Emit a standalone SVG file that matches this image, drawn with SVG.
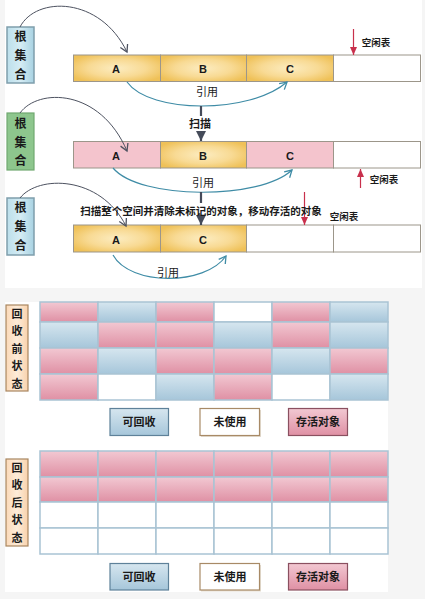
<svg xmlns="http://www.w3.org/2000/svg" width="425" height="599" viewBox="0 0 425 599">
<defs>
<radialGradient id="gY" cx="0.5" cy="0.5" r="0.6">
<stop offset="0" stop-color="#fcecc0"/>
<stop offset="0.55" stop-color="#f8da94"/>
<stop offset="1" stop-color="#efc158"/>
</radialGradient>
<linearGradient id="gP" x1="0" y1="0" x2="0" y2="1">
<stop offset="0" stop-color="#f2c8d2"/>
<stop offset="1" stop-color="#df90a4"/>
</linearGradient>
<linearGradient id="gB" x1="0" y1="0" x2="0" y2="1">
<stop offset="0" stop-color="#d6e6ef"/>
<stop offset="1" stop-color="#a6c6da"/>
</linearGradient>
<linearGradient id="gRoot" x1="0" y1="0" x2="1" y2="0">
<stop offset="0" stop-color="#bcdfeb"/>
<stop offset="0.5" stop-color="#d5ecf4"/>
<stop offset="1" stop-color="#a8d2e2"/>
</linearGradient>
<linearGradient id="gPeach" x1="0" y1="0" x2="1" y2="0">
<stop offset="0" stop-color="#fbd9b8"/>
<stop offset="0.5" stop-color="#fdecd9"/>
<stop offset="1" stop-color="#f9d2ac"/>
</linearGradient>
<marker id="mG" markerWidth="10" markerHeight="10" refX="8" refY="5" orient="auto" markerUnits="userSpaceOnUse">
<path d="M1,1 L8,5 L1,9" fill="none" stroke="#4d5260" stroke-width="1.3"/>
</marker>
<marker id="mT" markerWidth="10" markerHeight="10" refX="8" refY="5" orient="auto" markerUnits="userSpaceOnUse">
<path d="M1,1 L8,5 L1,9" fill="none" stroke="#3f8ca6" stroke-width="1.3"/>
</marker>
<marker id="mR" markerWidth="10" markerHeight="10" refX="8" refY="5" orient="auto" markerUnits="userSpaceOnUse">
<path d="M0,1.5 L8,5 L0,8.5 Z" fill="#c8304c"/>
</marker>
<marker id="mK" markerWidth="12" markerHeight="12" refX="10" refY="6" orient="auto" markerUnits="userSpaceOnUse">
<path d="M0,1 L10,6 L0,11 Z" fill="#454b5a"/>
</marker>
</defs>
<style>
.t{font-family:"Liberation Sans","Noto Sans CJK SC",sans-serif;fill:#1a1a1a;text-anchor:middle;dominant-baseline:central}
.b{font-weight:bold}
.cell{stroke:#9c968a;stroke-width:1}
.g{stroke:#a9c3d4;stroke-width:1.5}
.cg{fill:none;stroke:#4d5260;stroke-width:1}
.ct{fill:none;stroke:#3f8ca6;stroke-width:1.2}
.red{stroke:#c8304c;stroke-width:1.2}
</style>
<rect x="0" y="0" width="425" height="599" fill="#f5f5f5"/>
<rect x="5" y="0" width="417" height="288" fill="#ffffff"/>
<rect x="5" y="302" width="383" height="290" fill="#ffffff"/>

<!-- Section 1 -->
<g id="root1">
<rect x="7" y="27" width="27" height="56" fill="url(#gRoot)" stroke="#7f9eac" stroke-width="1.5"/>
<text class="t b" x="20.5" y="37" font-size="12">根</text>
<text class="t b" x="20.5" y="56" font-size="12">集</text>
<text class="t b" x="20.5" y="75" font-size="12">合</text>
</g>
<g id="bar1">
<rect class="cell" x="73.5" y="55" width="87" height="26.5" fill="url(#gY)"/>
<rect class="cell" x="160.5" y="55" width="86" height="26.5" fill="url(#gY)"/>
<rect class="cell" x="246.5" y="55" width="87" height="26.5" fill="url(#gY)"/>
<rect class="cell" x="333.5" y="55" width="87" height="26.5" fill="#ffffff"/>
<text class="t b" x="116" y="69" font-size="11">A</text>
<text class="t b" x="203" y="69" font-size="11">B</text>
<text class="t b" x="290" y="69" font-size="11">C</text>
</g>

<!-- Section 2 -->
<g id="root2">
<rect x="7" y="113" width="27" height="57" fill="#8dc68d" stroke="#70a870" stroke-width="1.2"/>
<text class="t b" x="20.5" y="124" font-size="12">根</text>
<text class="t b" x="20.5" y="143" font-size="12">集</text>
<text class="t b" x="20.5" y="161" font-size="12">合</text>
</g>
<g id="bar2">
<rect class="cell" x="73.5" y="141.5" width="87" height="26.5" fill="#f4c4cd"/>
<rect class="cell" x="160.5" y="141.5" width="86" height="26.5" fill="url(#gY)"/>
<rect class="cell" x="246.5" y="141.5" width="87" height="26.5" fill="#f4c4cd"/>
<rect class="cell" x="333.5" y="141.5" width="87" height="26.5" fill="#ffffff"/>
<text class="t b" x="116" y="156" font-size="11">A</text>
<text class="t b" x="203" y="156" font-size="11">B</text>
<text class="t b" x="290" y="156" font-size="11">C</text>
</g>

<!-- Section 3 -->
<g id="root3">
<rect x="7" y="198" width="27" height="57" fill="url(#gRoot)" stroke="#7f9eac" stroke-width="1.5"/>
<text class="t b" x="20.5" y="208" font-size="12">根</text>
<text class="t b" x="20.5" y="227" font-size="12">集</text>
<text class="t b" x="20.5" y="246" font-size="12">合</text>
</g>
<g id="bar3">
<rect class="cell" x="73.5" y="225" width="87" height="27" fill="url(#gY)"/>
<rect class="cell" x="160.5" y="225" width="86" height="27" fill="url(#gY)"/>
<rect class="cell" x="246.5" y="225" width="87" height="27" fill="#ffffff"/>
<rect class="cell" x="333.5" y="225" width="87" height="27" fill="#ffffff"/>
<text class="t b" x="116" y="240" font-size="11">A</text>
<text class="t b" x="203" y="240" font-size="11">C</text>
</g>

<g id="connectors">
<path class="cg" d="M20,27 C36,-4 100,-4 127,52" marker-end="url(#mG)"/>
<path class="cg" d="M20,113 C38,88 100,88 127,151" marker-end="url(#mG)"/>
<path class="cg" d="M20,198 C38,175 100,175 126,226" marker-end="url(#mG)"/>
<path class="ct" d="M127,82 C150,114 250,114 287,82" marker-end="url(#mT)"/>
<path class="ct" d="M113,168 C140,200 260,200 292,170" marker-end="url(#mT)"/>
<path class="ct" d="M113,255 C130,286 205,286 226,256" marker-end="url(#mT)"/>
<line class="red" x1="353.5" y1="29" x2="353.5" y2="55" marker-end="url(#mR)"/>
<line class="red" x1="360.5" y1="188" x2="360.5" y2="169" marker-end="url(#mR)"/>
<line class="red" x1="304.5" y1="192" x2="304.5" y2="225" marker-end="url(#mR)"/>
<line x1="201" y1="106" x2="201" y2="116" stroke="#454b5a" stroke-width="2.2"/>
<line x1="201" y1="132" x2="201" y2="141" stroke="#454b5a" stroke-width="2.2" marker-end="url(#mK)"/>
<line x1="201" y1="192" x2="201" y2="203" stroke="#454b5a" stroke-width="2.2"/>
<line x1="201" y1="217" x2="201" y2="225" stroke="#454b5a" stroke-width="2.2" marker-end="url(#mK)"/>
</g>

<g id="labels-top">
<text class="t" x="207" y="92" font-size="11">引用</text>
<text class="t b" x="376" y="42" font-size="9.5">空闲表</text>
<text class="t b" x="200" y="124" font-size="11">扫描</text>
<text class="t" x="203" y="183" font-size="11">引用</text>
<text class="t b" x="384" y="179" font-size="9.5">空闲表</text>
<text class="t b" x="201" y="210.5" font-size="10.5">扫描整个空间并清除未标记的对象，移动存活的对象</text>
<text class="t b" x="344" y="216.5" font-size="9.5">空闲表</text>
<text class="t" x="168" y="273" font-size="11">引用</text>
</g>

<!-- Before grid -->
<g id="label-before">
<rect x="6" y="305" width="22" height="86" fill="url(#gPeach)" stroke="#a88660" stroke-width="1.2"/>
<text class="t b" x="17" y="313.5" font-size="11">回</text>
<text class="t b" x="17" y="331" font-size="11">收</text>
<text class="t b" x="17" y="348.5" font-size="11">前</text>
<text class="t b" x="17" y="366" font-size="11">状</text>
<text class="t b" x="17" y="383.5" font-size="11">态</text>
</g>
<g id="grid-before">
<rect class="g" x="40" y="302" width="58" height="20" fill="url(#gP)"/>
<rect class="g" x="98" y="302" width="58" height="20" fill="url(#gB)"/>
<rect class="g" x="156" y="302" width="58" height="20" fill="url(#gP)"/>
<rect class="g" x="214" y="302" width="58" height="20" fill="#ffffff"/>
<rect class="g" x="272" y="302" width="58" height="20" fill="url(#gP)"/>
<rect class="g" x="330" y="302" width="58" height="20" fill="url(#gB)"/>
<rect class="g" x="40" y="322" width="58" height="26" fill="url(#gB)"/>
<rect class="g" x="98" y="322" width="58" height="26" fill="url(#gP)"/>
<rect class="g" x="156" y="322" width="58" height="26" fill="url(#gP)"/>
<rect class="g" x="214" y="322" width="58" height="26" fill="url(#gB)"/>
<rect class="g" x="272" y="322" width="58" height="26" fill="url(#gP)"/>
<rect class="g" x="330" y="322" width="58" height="26" fill="url(#gB)"/>
<rect class="g" x="40" y="348" width="58" height="26" fill="url(#gP)"/>
<rect class="g" x="98" y="348" width="58" height="26" fill="url(#gB)"/>
<rect class="g" x="156" y="348" width="58" height="26" fill="url(#gP)"/>
<rect class="g" x="214" y="348" width="58" height="26" fill="url(#gP)"/>
<rect class="g" x="272" y="348" width="58" height="26" fill="url(#gB)"/>
<rect class="g" x="330" y="348" width="58" height="26" fill="url(#gP)"/>
<rect class="g" x="40" y="374" width="58" height="26" fill="url(#gP)"/>
<rect class="g" x="98" y="374" width="58" height="26" fill="#ffffff"/>
<rect class="g" x="156" y="374" width="58" height="26" fill="url(#gB)"/>
<rect class="g" x="214" y="374" width="58" height="26" fill="url(#gP)"/>
<rect class="g" x="272" y="374" width="58" height="26" fill="#ffffff"/>
<rect class="g" x="330" y="374" width="58" height="26" fill="url(#gB)"/>
</g>
<g id="legend-before">
<rect x="110" y="408.5" width="58.5" height="27" fill="url(#gB)" stroke="#5e8199" stroke-width="1.2"/>
<text class="t b" x="139" y="422" font-size="11">可回收</text>
<rect x="201" y="410" width="60" height="27" fill="#c8b8a0" opacity="0.5"/>
<rect x="200" y="408.5" width="59.5" height="27" fill="#ffffff" stroke="#a88a66" stroke-width="1.2"/>
<text class="t b" x="230" y="422" font-size="11">未使用</text>
<rect x="288.5" y="408.5" width="59" height="27" fill="url(#gP)" stroke="#8a5060" stroke-width="1.2"/>
<text class="t b" x="318" y="422" font-size="11">存活对象</text>
</g>

<!-- After grid -->
<g id="label-after">
<rect x="6" y="459" width="22" height="87" fill="url(#gPeach)" stroke="#a88660" stroke-width="1.2"/>
<text class="t b" x="17" y="467.5" font-size="11">回</text>
<text class="t b" x="17" y="485" font-size="11">收</text>
<text class="t b" x="17" y="502.5" font-size="11">后</text>
<text class="t b" x="17" y="520" font-size="11">状</text>
<text class="t b" x="17" y="538" font-size="11">态</text>
</g>
<g id="grid-after">
<rect class="g" x="40" y="451" width="58" height="26" fill="url(#gP)"/>
<rect class="g" x="98" y="451" width="58" height="26" fill="url(#gP)"/>
<rect class="g" x="156" y="451" width="58" height="26" fill="url(#gP)"/>
<rect class="g" x="214" y="451" width="58" height="26" fill="url(#gP)"/>
<rect class="g" x="272" y="451" width="58" height="26" fill="url(#gP)"/>
<rect class="g" x="330" y="451" width="58" height="26" fill="url(#gP)"/>
<rect class="g" x="40" y="477" width="58" height="25" fill="url(#gP)"/>
<rect class="g" x="98" y="477" width="58" height="25" fill="url(#gP)"/>
<rect class="g" x="156" y="477" width="58" height="25" fill="url(#gP)"/>
<rect class="g" x="214" y="477" width="58" height="25" fill="url(#gP)"/>
<rect class="g" x="272" y="477" width="58" height="25" fill="url(#gP)"/>
<rect class="g" x="330" y="477" width="58" height="25" fill="url(#gP)"/>
<rect class="g" x="40" y="502" width="58" height="26" fill="#ffffff"/>
<rect class="g" x="98" y="502" width="58" height="26" fill="#ffffff"/>
<rect class="g" x="156" y="502" width="58" height="26" fill="#ffffff"/>
<rect class="g" x="214" y="502" width="58" height="26" fill="#ffffff"/>
<rect class="g" x="272" y="502" width="58" height="26" fill="#ffffff"/>
<rect class="g" x="330" y="502" width="58" height="26" fill="#ffffff"/>
<rect class="g" x="40" y="528" width="58" height="26" fill="#ffffff"/>
<rect class="g" x="98" y="528" width="58" height="26" fill="#ffffff"/>
<rect class="g" x="156" y="528" width="58" height="26" fill="#ffffff"/>
<rect class="g" x="214" y="528" width="58" height="26" fill="#ffffff"/>
<rect class="g" x="272" y="528" width="58" height="26" fill="#ffffff"/>
<rect class="g" x="330" y="528" width="58" height="26" fill="#ffffff"/>
</g>
<g id="legend-after">
<rect x="110" y="563.5" width="58.5" height="26.5" fill="url(#gB)" stroke="#5e8199" stroke-width="1.2"/>
<text class="t b" x="139" y="577" font-size="11">可回收</text>
<rect x="201" y="565" width="60" height="26.5" fill="#c8b8a0" opacity="0.5"/>
<rect x="200" y="563.5" width="59.5" height="26.5" fill="#ffffff" stroke="#a88a66" stroke-width="1.2"/>
<text class="t b" x="230" y="577" font-size="11">未使用</text>
<rect x="288.5" y="563.5" width="59" height="26.5" fill="url(#gP)" stroke="#8a5060" stroke-width="1.2"/>
<text class="t b" x="318" y="577" font-size="11">存活对象</text>
</g>
</svg>
